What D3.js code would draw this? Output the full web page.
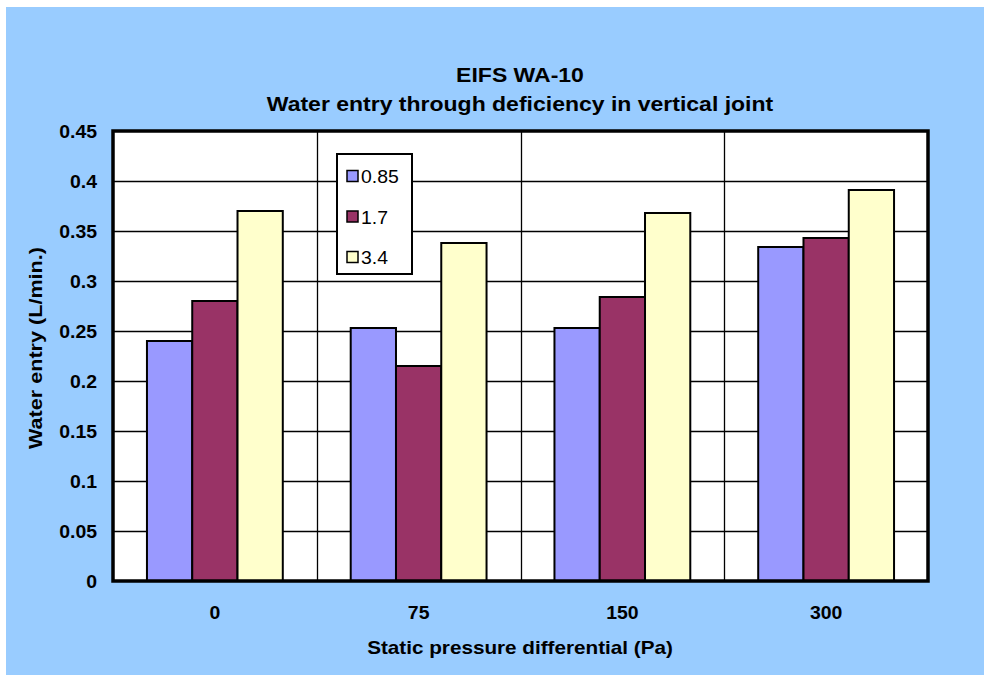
<!DOCTYPE html>
<html>
<head>
<meta charset="utf-8">
<script src="https://cdn.jsdelivr.net/npm/d3@7"></script>
<style>
    body { margin: 0; background: #fff; }
    text { font-family: Arial, "Liberation Sans", sans-serif; fill: #000; }
</style>
</head>
<body>
<script>
(function () {
    'use strict';

    var categories = ['0', '75', '150', '300'];
    var seriesNames = ['0.85', '1.7', '3.4'];
    var s085 = [0.24, 0.253, 0.253, 0.334];
    var s17 = [0.28, 0.215, 0.284, 0.343];
    var s34 = [0.37, 0.338, 0.368, 0.391];
    var yTicks = [0, 0.05, 0.1, 0.15, 0.2, 0.25, 0.3, 0.35, 0.4, 0.45];
    var colors = ['#9999FF', '#993366', '#FFFFCC'];

    var W = 984, H = 675;
    var left = 113, right = 928, top = 131, bottom = 581;

    var svg = d3.select('body')
        .append('svg')
        .attr('width', W)
        .attr('height', H);

    svg.append('rect')
        .attr('x', 6)
        .attr('y', 7)
        .attr('width', W - 6)
        .attr('height', H - 7)
        .attr('fill', '#99CCFF');

    // text in the picture is a bit stretched along its length
    function label(x, y, txt, size, weight, anchor, sx, rot) {
        return svg.append('text')
            .attr('transform', 'translate(' + x + ',' + y + ')' + (rot ? ' rotate(' + rot + ')' : '') + ' scale(' + sx + ',1)')
            .attr('text-anchor', anchor)
            .attr('font-size', size)
            .attr('font-weight', weight)
            .text(txt);
    }

    var x0 = d3.scaleBand()
        .domain(categories)
        .range([left, right]);
    var x1 = d3.scaleBand()
        .domain(seriesNames)
        .range([0, x0.bandwidth()])
        .paddingOuter(0.75);
    var y = d3.scaleLinear()
        .domain([0, 0.45])
        .range([bottom, top]);

    svg.append('rect')
        .attr('x', left)
        .attr('y', top)
        .attr('width', right - left)
        .attr('height', bottom - top)
        .attr('fill', '#fff');

    // grid
    svg.append('g')
        .selectAll('line')
        .data(yTicks.slice(1, -1))
        .enter()
        .append('line')
        .attr('x1', left)
        .attr('x2', right)
        .attr('y1', function (d) { return Math.round(y(d)) + 0.5; })
        .attr('y2', function (d) { return Math.round(y(d)) + 0.5; })
        .attr('stroke', '#000')
        .attr('stroke-width', 1.3);
    svg.append('g')
        .selectAll('line')
        .data(categories.slice(1))
        .enter()
        .append('line')
        .attr('x1', function (d) { return Math.round(x0(d)) + 0.5; })
        .attr('x2', function (d) { return Math.round(x0(d)) + 0.5; })
        .attr('y1', top)
        .attr('y2', bottom)
        .attr('stroke', '#000')
        .attr('stroke-width', 1.3);

    // bars
    var series = [s085, s17, s34];
    var groups = svg.append('g')
        .selectAll('g')
        .data(series)
        .enter()
        .append('g')
        .attr('fill', function (d, i) { return colors[i]; });
    groups.each(function (vals, si) {
        d3.select(this)
            .selectAll('rect')
            .data(vals)
            .enter()
            .append('rect')
            .attr('x', function (d, i) { return x0(categories[i]) + x1(seriesNames[si]); })
            .attr('y', function (d) { return y(d); })
            .attr('width', x1.bandwidth())
            .attr('height', function (d) { return y(0) - y(d); })
            .attr('stroke', '#000')
            .attr('stroke-width', 2);
    });

    // plot border
    svg.append('rect')
        .attr('x', left)
        .attr('y', top)
        .attr('width', right - left)
        .attr('height', bottom - top)
        .attr('fill', 'none')
        .attr('stroke', '#000')
        .attr('stroke-width', 3.5);

    // y tick labels
    yTicks.forEach(function (t) {
        label(97, y(t) + 6.5, String(t), 18, 'bold', 'end', 1.08);
    });
    // x tick labels
    categories.forEach(function (c) {
        label(x0(c) + x0.bandwidth() / 2, 619, c, 18, 'bold', 'middle', 1.08);
    });

    label(520, 82, 'EIFS WA-10', 20, 'bold', 'middle', 1.15);
    label(520, 111, 'Water entry through deficiency in vertical joint', 20, 'bold', 'middle', 1.15);
    label(520, 654, 'Static pressure differential (Pa)', 18, 'bold', 'middle', 1.15);
    label(42, 348, 'Water entry (L/min.)', 18, 'bold', 'middle', 1.2, -90);

    // legend
    var lg = svg.append('g');
    lg.append('rect')
        .attr('x', 337)
        .attr('y', 154)
        .attr('width', 75)
        .attr('height', 120)
        .attr('fill', '#fff')
        .attr('stroke', '#000')
        .attr('stroke-width', 2);
    var ly = d3.scalePoint()
        .domain(seriesNames)
        .range([176, 257]);
    seriesNames.forEach(function (s, i) {
        lg.append('rect')
            .attr('x', 347)
            .attr('y', ly(s) - 5.5)
            .attr('width', 11)
            .attr('height', 11)
            .attr('fill', colors[i])
            .attr('stroke', '#000')
            .attr('stroke-width', 1.5);
        label(361, ly(s) + 7, s, 18, 'normal', 'start', 1.08);
    });
}());
</script>
</body>
</html>
